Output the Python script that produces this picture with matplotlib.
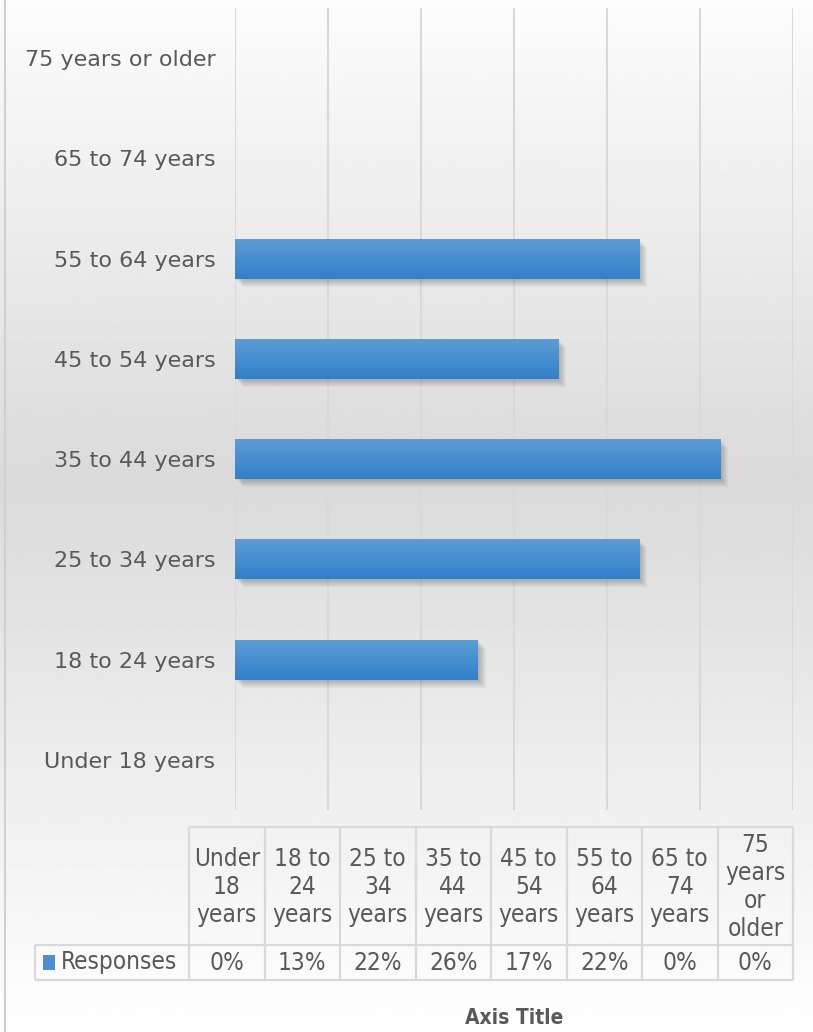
import numpy as np
import matplotlib
matplotlib.use("Agg")
import matplotlib.pyplot as plt
from matplotlib.colors import LinearSegmentedColormap

# --- Data ---
categories = ["Under 18 years", "18 to 24 years", "25 to 34 years", "35 to 44 years",
              "45 to 54 years", "55 to 64 years", "65 to 74 years", "75 years or older"]
table_headers = ["Under\n18\nyears", "18 to\n24\nyears", "25 to\n34\nyears", "35 to\n44\nyears",
                 "45 to\n54\nyears", "55 to\n64\nyears", "65 to\n74\nyears", "75\nyears\nor\nolder"]
responses = [0.0, 0.1304, 0.2174, 0.2609, 0.1739, 0.2174, 0.0, 0.0]
series_name = "Responses"
x_max = 0.30
x_step = 0.05

# --- Layout (pixels) ---
W, H = 813, 1032
DPI = 100
PLOT_L, PLOT_R, PLOT_T, PLOT_B = 235, 793, 8, 810
TBL_L, TBL_R, TBL_LEG = 189, 793, 35
TBL_T, TBL_MID, TBL_B = 827, 945, 980
TXT = "#595959"
GRID = "#d9d9d9"
FONT = "DejaVu Sans"

plt.rcParams["font.family"] = FONT

fig = plt.figure(figsize=(W / DPI, H / DPI), dpi=DPI)

# background gradient
bg = fig.add_axes([0, 0, 1, 1])
bg.set_axis_off()
ys = np.linspace(0, H, 400)
shade = np.interp(ys, [0, 480, H], [0.99, 0.855, 1.0])
bg.imshow(np.repeat(shade[:, None], 2, axis=1), cmap="gray", vmin=0, vmax=1,
          aspect="auto", extent=[0, 1, 0, 1], origin="upper")
bg.set_xlim(0, 1)
bg.set_ylim(0, 1)

# --- Bar chart ---
ax = fig.add_axes([PLOT_L / W, 1 - PLOT_B / H, (PLOT_R - PLOT_L) / W, (PLOT_B - PLOT_T) / H])
ax.patch.set_alpha(0)
ypos = np.arange(len(categories))
bar_h = 0.4

px_x = x_max / (PLOT_R - PLOT_L)
px_y = len(categories) / (PLOT_B - PLOT_T)

# soft shadow
for k in range(1, 9):
    ax.barh(ypos - k * px_y, responses, height=bar_h, left=k * px_x,
            color="black", alpha=0.03, linewidth=0, zorder=2)

grad = LinearSegmentedColormap.from_list("bar", ["#3280c8", "#5c9dd8"])
gimg = np.linspace(0, 1, 64)[:, None]
bars = ax.barh(ypos, responses, height=bar_h, color="#4a90d0", linewidth=0, zorder=3)
for b, v in zip(bars, responses):
    if v <= 0:
        continue
    im = ax.imshow(gimg, cmap=grad, aspect="auto", origin="lower", zorder=4,
                   extent=[0, v, b.get_y(), b.get_y() + bar_h])
    im.set_clip_path(b)

ax.set_xlim(0, x_max)
ax.set_ylim(-0.5, len(categories) - 0.5)
ax.set_xticks(np.arange(0, x_max + 1e-9, x_step))
ax.xaxis.grid(True, color=GRID, linewidth=1.5, zorder=0)
ax.set_axisbelow(True)
ax.tick_params(axis="x", length=0, labelbottom=False)
ax.tick_params(axis="y", length=0, pad=14, labelsize=16, labelcolor=TXT)
ax.set_yticks(ypos)
ax.set_yticklabels(categories)
for s in ax.spines.values():
    s.set_visible(False)

# --- Data table + frame in pixel coordinates ---
ov = fig.add_axes([0, 0, 1, 1])
ov.set_xlim(0, W)
ov.set_ylim(H, 0)
ov.set_axis_off()
ov.patch.set_alpha(0)

# chart area left border
ov.plot([5, 5], [0, H], color="#d0d0d0", linewidth=1.5)

ncol = len(table_headers)
col_x = np.linspace(TBL_L, TBL_R, ncol + 1)
lc = dict(color=GRID, linewidth=1.6, solid_capstyle="butt")
ov.plot([TBL_L, TBL_R], [TBL_T, TBL_T], **lc)
ov.plot([TBL_LEG, TBL_R], [TBL_MID, TBL_MID], **lc)
ov.plot([TBL_LEG, TBL_R], [TBL_B, TBL_B], **lc)
ov.plot([TBL_LEG, TBL_LEG], [TBL_MID, TBL_B], **lc)
for xc in col_x:
    ov.plot([xc, xc], [TBL_T, TBL_B], **lc)

tkw = dict(color=TXT, fontsize=17.5, fontstretch="condensed", linespacing=1.2)
for i, (hd, v) in enumerate(zip(table_headers, responses)):
    cx = (col_x[i] + col_x[i + 1]) / 2
    ov.text(cx, (TBL_T + TBL_MID) / 2 + 1, hd, ha="center", va="center", **tkw)
    ov.text(cx, (TBL_MID + TBL_B) / 2, f"{v:.0%}", ha="center", va="center", **tkw)

ov.add_patch(plt.Rectangle((43, 955), 12, 15, color="#4a90d0", linewidth=0))
ov.text(61, (TBL_MID + TBL_B) / 2, series_name, ha="left", va="center", **tkw)

ov.text((PLOT_L + PLOT_R) / 2, 1018, "Axis Title", ha="center", va="center",
        color=TXT, fontsize=15, fontweight="bold", fontstretch="condensed")

fig.savefig("out.png", dpi=DPI)
